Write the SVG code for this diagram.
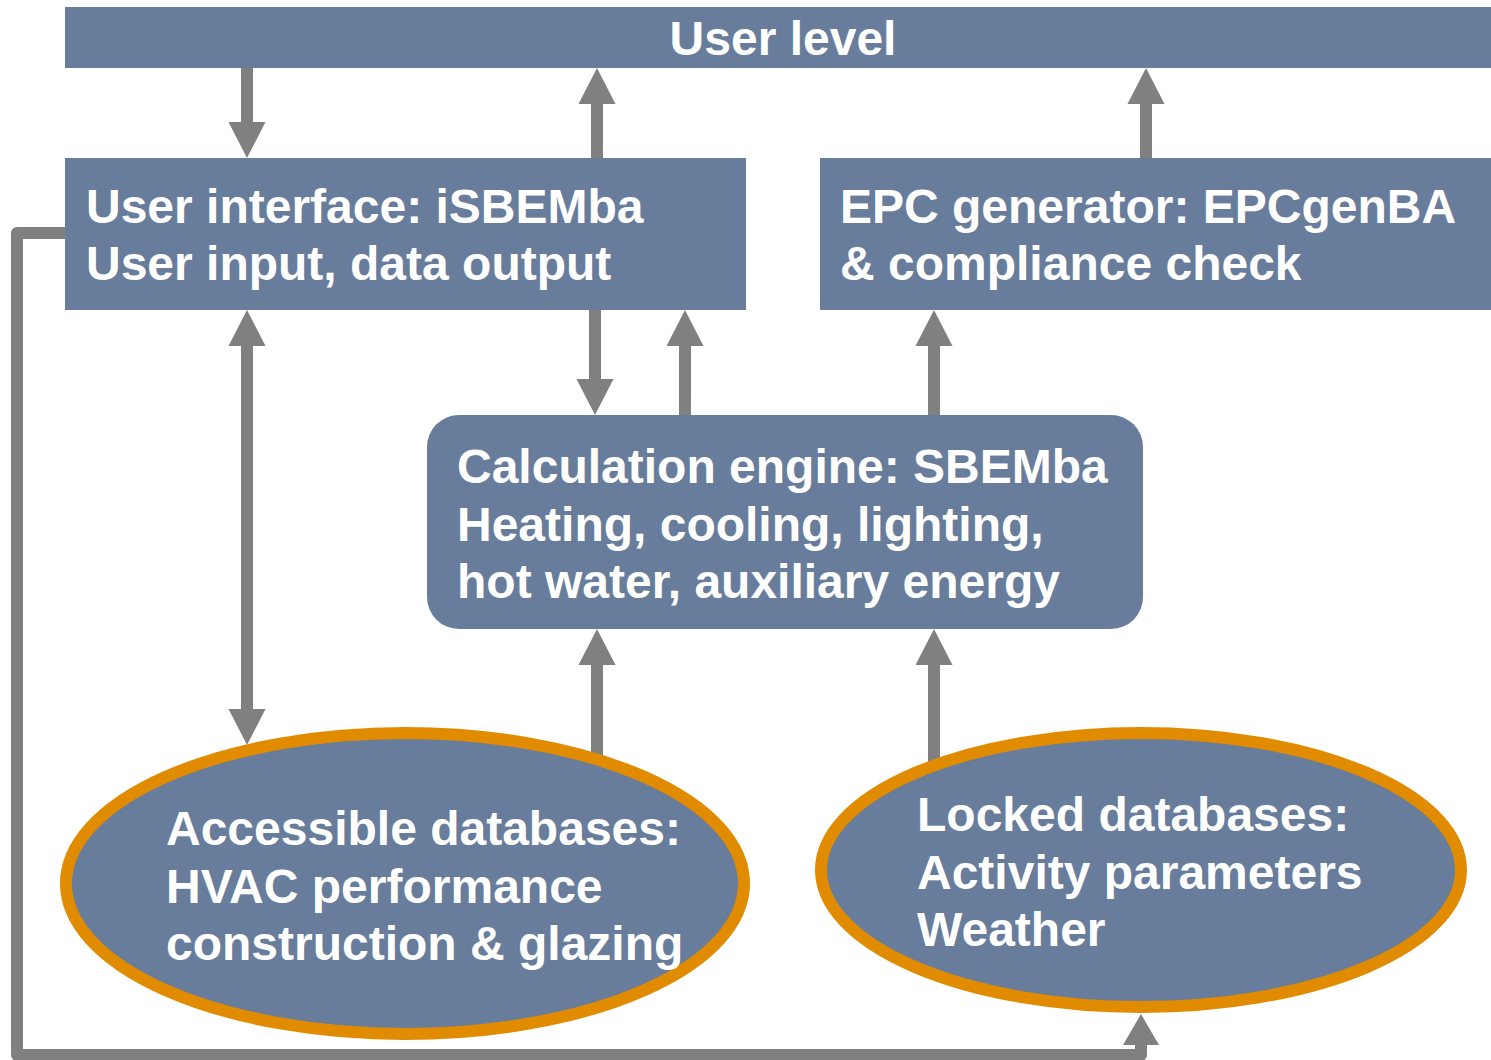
<svg xmlns="http://www.w3.org/2000/svg" width="1491" height="1060" viewBox="0 0 1491 1060">
<style>
.box{fill:#687c9b}
.ell{fill:#687c9b;stroke:#e18b00;stroke-width:12}
.t{font-family:"Liberation Sans",Arial,sans-serif;font-weight:bold;font-size:48px;fill:#ffffff}
.c{fill:none;stroke:#808080;stroke-width:12;stroke-linejoin:round}
</style>
<defs>
<marker id="ah" markerUnits="userSpaceOnUse" markerWidth="37" markerHeight="37" refX="0" refY="18.5" orient="auto-start-reverse" overflow="visible">
<path d="M0,0 L36,18.5 L0,37 Z" fill="#808080"/>
</marker>
<marker id="ah2" markerUnits="userSpaceOnUse" markerWidth="37" markerHeight="37" refX="0" refY="18" orient="auto" overflow="visible">
<path d="M0,0 L31,18 L0,36 Z" fill="#808080"/>
</marker>
</defs>
<rect width="1491" height="1060" fill="#ffffff"/>
<g id="connectors">
<path class="c" d="M247,68 L247,122" marker-end="url(#ah)"/>
<path class="c" d="M597,158 L597,104" marker-end="url(#ah)"/>
<path class="c" d="M1146,158 L1146,104" marker-end="url(#ah)"/>
<path class="c" d="M247,346 L247,709" marker-start="url(#ah)" marker-end="url(#ah)"/>
<path class="c" d="M595,310 L595,379" marker-end="url(#ah)"/>
<path class="c" d="M685,415 L685,346" marker-end="url(#ah)"/>
<path class="c" d="M934,415 L934,346" marker-end="url(#ah)"/>
<path class="c" d="M597,770 L597,665" marker-end="url(#ah)"/>
<path class="c" d="M934,780 L934,665" marker-end="url(#ah)"/>
<path class="c" d="M66,233 L17,233 L17,1055 L1141,1055 L1141,1045" marker-end="url(#ah2)"/>
</g>
<g id="user-level">
<rect class="box" x="65" y="7" width="1426" height="61"/>
<text class="t" x="783" y="55" text-anchor="middle">User level</text>
</g>
<g id="user-interface">
<rect class="box" x="65" y="158" width="681" height="152"/>
<text class="t" x="86" y="223">User interface: iSBEMba</text>
<text class="t" x="86" y="280">User input, data output</text>
</g>
<g id="epc-generator">
<rect class="box" x="820" y="158" width="671" height="152"/>
<text class="t" x="840" y="223">EPC generator: EPCgenBA</text>
<text class="t" x="840" y="280">&amp; compliance check</text>
</g>
<g id="calculation-engine">
<rect class="box" x="427" y="415" width="716" height="214" rx="32" ry="32"/>
<text class="t" x="457" y="483">Calculation engine: SBEMba</text>
<text class="t" x="457" y="541">Heating, cooling, lighting,</text>
<text class="t" x="457" y="598">hot water, auxiliary energy</text>
</g>
<g id="accessible-databases">
<ellipse class="ell" cx="405" cy="883.5" rx="339" ry="150.5"/>
<text class="t" x="166" y="845">Accessible databases:</text>
<text class="t" x="166" y="903">HVAC performance</text>
<text class="t" x="166" y="960">construction &amp; glazing</text>
</g>
<g id="locked-databases">
<ellipse class="ell" cx="1141" cy="870" rx="320" ry="137"/>
<text class="t" x="917" y="831">Locked databases:</text>
<text class="t" x="917" y="889">Activity parameters</text>
<text class="t" x="917" y="946">Weather</text>
</g>
</svg>
